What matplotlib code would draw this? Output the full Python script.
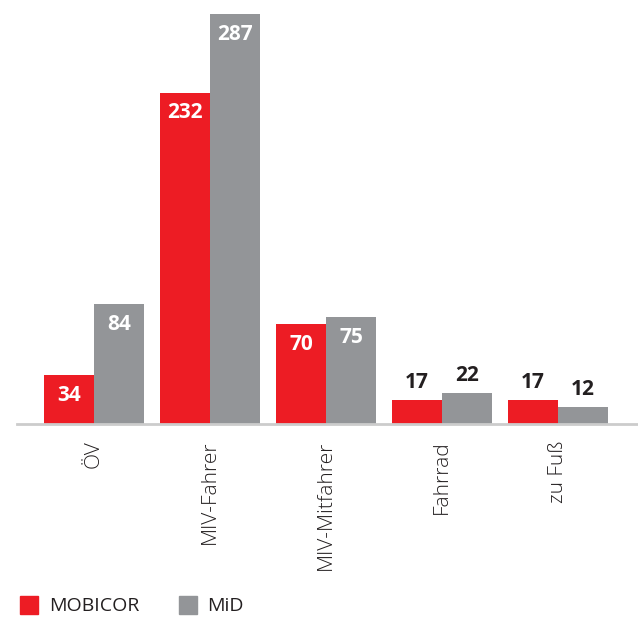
import matplotlib
matplotlib.use("Agg")
import matplotlib.pyplot as plt
from matplotlib.patches import Rectangle

categories = ["ÖV", "MIV-Fahrer", "MIV-Mitfahrer", "Fahrrad", "zu Fuß"]
mobicor = [34, 232, 70, 17, 17]
mid = [84, 287, 75, 22, 12]

RED = "#ED1C24"
GRAY = "#939598"
DARK = "#231F20"

plt.rcParams["font.family"] = ["Open Sans", "DejaVu Sans"]

fig = plt.figure(figsize=(6.38, 6.17), dpi=100)
ax = fig.add_axes([17 / 638, 193 / 617, 621 / 638, 424 / 617])

w = 50 / 116
x = list(range(len(categories)))
for series, color, off in [(mobicor, RED, -w / 2), (mid, GRAY, w / 2)]:
    xs = [i + off for i in x]
    ax.bar(xs, series, width=w, color=color, linewidth=0)
    for xi, v in zip(xs, series):
        if v >= 30:
            ax.annotate(str(v), (xi, v), xytext=(0, -7), textcoords="offset points",
                        ha="center", va="top", color="white", fontsize=15,
                        fontweight="bold")
        else:
            ax.annotate(str(v), (xi, v), xytext=(0, 5), textcoords="offset points",
                        ha="center", va="bottom", color=DARK, fontsize=15,
                        fontweight="bold")

ax.set_xlim(-77 / 116, 544 / 116)
ax.set_ylim(0, 424 / (410 / 287))
for s in ["top", "right", "left"]:
    ax.spines[s].set_visible(False)
ax.spines["bottom"].set_color("#CCCCCC")
ax.spines["bottom"].set_linewidth(2)
ax.set_yticks([])
ax.set_xticks(x)
ax.set_xticklabels(categories, rotation=90, fontsize=15, color=DARK,
                   fontweight="light")
ax.tick_params(axis="x", length=0, pad=12)

# legend
fig.patches.append(Rectangle((20 / 638, 3 / 617), 18 / 638, 18 / 617,
                             transform=fig.transFigure, color=RED))
fig.text(49 / 638, 11 / 617, "MOBICOR", fontsize=14, color=DARK, va="center")
fig.patches.append(Rectangle((179 / 638, 3 / 617), 18 / 638, 18 / 617,
                             transform=fig.transFigure, color=GRAY))
fig.text(207 / 638, 11 / 617, "MiD", fontsize=14, color=DARK, va="center")

fig.savefig("out.png", dpi=100)
